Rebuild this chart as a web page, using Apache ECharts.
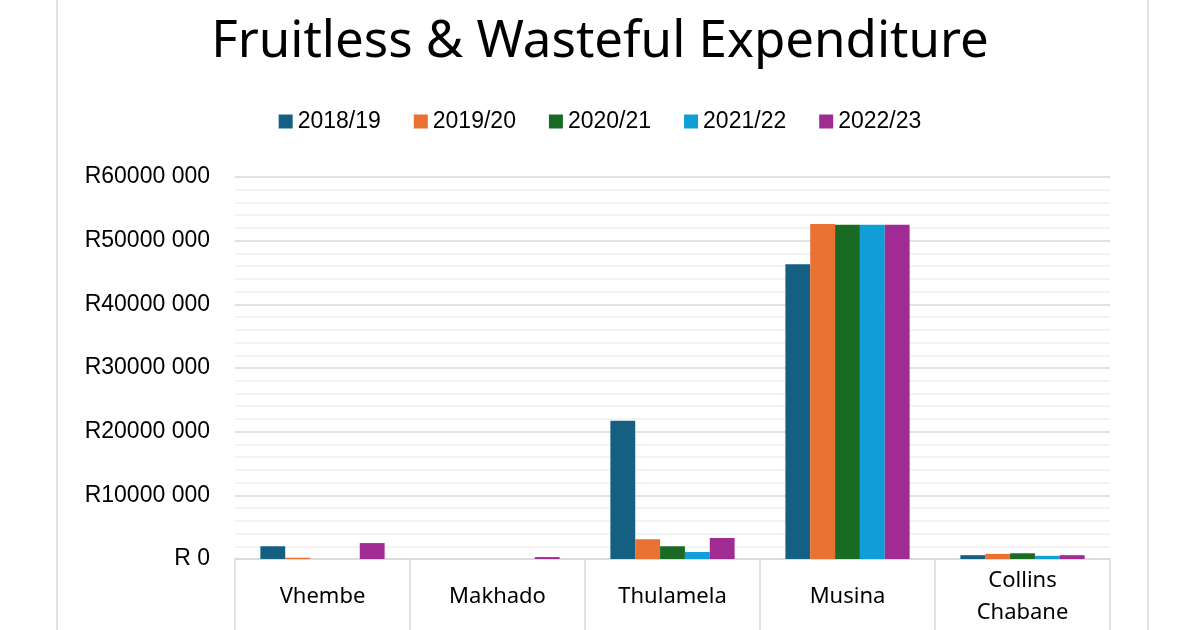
<!DOCTYPE html>
<html>
<head>
<meta charset="utf-8">
<script src="https://cdn.jsdelivr.net/npm/echarts@6/dist/echarts.min.js"></script>
<style>
  html, body { margin: 0; padding: 0; background: #fff; }
  #chart { width: 1200px; height: 630px; }
</style>
</head>
<body>
<div id="chart"></div>
<script>
// municipalities
var categories = ['Vhembe', 'Makhado', 'Thulamela', 'Musina', 'Collins\nChabane'];
var years = ['2018/19', '2019/20', '2020/21', '2021/22', '2022/23'];
var colors = ['#156082', '#E97132', '#196B24', '#0F9ED5', '#A02B93'];

// values in Rand
var y2018 = [2000000, 0, 21700000, 46300000, 600000];
var y2019 = [200000, 0, 3100000, 52600000, 800000];
var y2020 = [0, 0, 2000000, 52500000, 900000];
var y2021 = [0, 0, 1100000, 52500000, 500000];
var y2022 = [2500000, 300000, 3300000, 52500000, 600000];
var seriesValues = [y2018, y2019, y2020, y2021, y2022];

var chart = echarts.init(document.getElementById('chart'));

var series = [];
for (var i = 0; i < years.length; i++) {
    series.push({
        name: years[i],
        type: 'bar',
        data: seriesValues[i],
        barGap: '0%',
        barCategoryGap: '29%',
        itemStyle: {
            color: colors[i],
            borderWidth: 0
        }
    });
}

var option = {
    animation: false,
    title: {
        text: 'Fruitless & Wasteful Expenditure',
        left: 'center',
        top: 12,
        textStyle: {
            fontFamily: 'Noto Sans',
            fontWeight: 'normal',
            fontSize: 51,
            color: '#000'
        }
    },
    legend: {
        data: years,
        top: 105,
        left: 'center',
        itemWidth: 14,
        itemHeight: 14,
        itemGap: 33,
        icon: 'rect',
        textStyle: {
            fontFamily: 'Liberation Sans',
            fontSize: 23,
            color: '#000'
        }
    },
    grid: {
        left: 235,
        right: 90,
        top: 177,
        bottom: 71,
        outerBoundsMode: 'none'
    },
    xAxis: {
        type: 'category',
        data: categories,
        axisLine: { lineStyle: { color: '#d9d9d9', width: 1.5 } },
        axisTick: {
            show: true,
            interval: 0,
            length: 90,
            lineStyle: { color: '#d9d9d9', width: 1.5 }
        },
        axisLabel: {
            interval: 0,
            margin: 38,
            verticalAlign: 'middle',
            fontFamily: 'Noto Sans',
            fontSize: 22,
            lineHeight: 32,
            color: '#000'
        }
    },
    yAxis: {
        type: 'value',
        min: 0,
        max: 60000000,
        interval: 10000000,
        axisLine: { show: false },
        axisTick: { show: false },
        minorTick: { show: false, splitNumber: 5 },
        splitLine: { lineStyle: { color: '#d9d9d9', width: 1.5 } },
        minorSplitLine: { show: true, lineStyle: { color: '#efefef', width: 1.5 } },
        axisLabel: {
            margin: 25,
            fontFamily: 'Liberation Sans',
            fontSize: 23,
            color: '#000',
            formatter: function (v) {
                if (v === 0) return 'R 0';
                return 'R' + Math.floor(v / 1000) + ' 000';
            }
        }
    },
    graphic: [{
        type: 'rect',
        shape: { x: 57, y: -5, width: 1091, height: 645 },
        style: { fill: 'none', stroke: '#d9d9d9', lineWidth: 1.5 },
        silent: true
    }],
    series: series
};
chart.setOption(option);
</script>
</body>
</html>
